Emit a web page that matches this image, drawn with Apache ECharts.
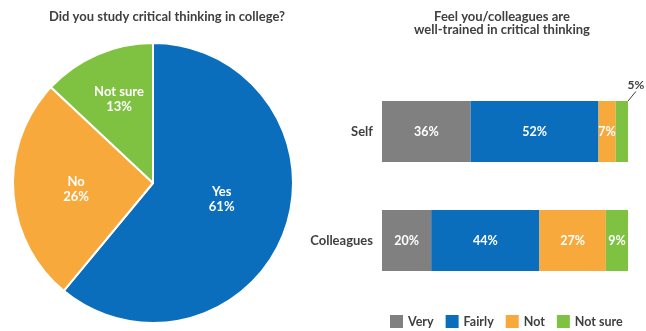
<!DOCTYPE html>
<html><head><meta charset="utf-8">
<script src="https://cdn.jsdelivr.net/npm/echarts@6/dist/echarts.min.js"></script>
<style>html,body{margin:0;padding:0;background:#fff}#c{width:646px;height:331px}</style>
</head><body><div id="c"></div>
<script>
const pieNames = ['Yes', 'No', 'Not sure'];
const pieValues = [61, 26, 13];
const barCategories = ['Self', 'Colleagues'];
const barSeriesNames = ['Very', 'Fairly', 'Not', 'Not sure'];
const veryValues = [36, 20];
const fairlyValues = [52, 44];
const notValues = [7, 27];
const notSureValues = [5, 9];

const colors = ['#808080', '#0a6ebd', '#f8a93b', '#7fc241'];
const pieColors = ['#0a6ebd', '#f8a93b', '#7fc241'];
const font = 'Lato';
const dark = '#3f3f3f';

const chart = echarts.init(document.getElementById('c'));
const barData = [veryValues, fairlyValues, notValues, notSureValues];

const barSeries = barSeriesNames.map((n, i) => {
  const s = {
    name: n, type: 'bar', stack: 'a', barWidth: 61,
    itemStyle: { color: colors[i] },
    label: { show: true, position: 'inside', color: '#fff', fontFamily: font, fontWeight: 700, fontSize: 12.5,
             formatter: p => p.value + '%' },
    data: barData[i].slice()
  };
  if (i === 3) {
    s.labelLine = { show: true, length2: 0, lineStyle: { color: '#3f3f3f', width: 1 } };
    s.labelLayout = p => p.dataIndex === 0 ? { dx: 14, dy: -46 } : {};
    s.data[0] = { value: barData[i][0], label: { color: dark, fontSize: 12 } };
  }
  return s;
});

chart.setOption({
  animation: false,
  textStyle: { fontFamily: font },
  title: [
    { text: 'Did you study critical thinking in college?', left: 162, top: 5, textAlign: 'center',
      textStyle: { fontFamily: font, fontWeight: 700, fontSize: 13, color: dark } },
    { text: 'Feel you/colleagues are\nwell-trained in critical thinking', left: 497, top: 5, textAlign: 'center',
      textStyle: { fontFamily: font, fontWeight: 700, fontSize: 13, color: dark, lineHeight: 13 } }
  ],
  legend: {
    data: barSeriesNames, left: 385, top: 310, itemWidth: 13, itemHeight: 13, itemGap: 12,
    icon: 'rect',
    textStyle: { fontFamily: font, fontWeight: 700, fontSize: 12.5, color: dark }
  },
  grid: { left: 382, right: 18, top: 77, height: 218 },
  xAxis: { type: 'value', min: 0, max: 100, show: false },
  yAxis: { type: 'category', data: barCategories, inverse: true,
    axisLine: { show: false }, axisTick: { show: false },
    axisLabel: { fontFamily: font, fontWeight: 700, fontSize: 13, color: dark, margin: 9 } },
  series: [
    { type: 'pie', center: [153, 183], radius: 140, startAngle: 90, clockwise: true,
      itemStyle: { borderColor: '#fff', borderWidth: 2 },
      label: { show: true, position: 'inner', color: '#fff', fontFamily: font, fontWeight: 700, fontSize: 13, lineHeight: 15,
               formatter: p => p.name + '\n' + p.value + '%' },
      labelLayout: p => p.dataIndex === 2 ? { dx: -5, dy: -17 } : (p.dataIndex === 0 ? { dy: -8 } : { dx: -4, dy: 2 }),
      labelLine: { show: false },
      data: pieNames.map((n, i) => ({ name: n, value: pieValues[i], itemStyle: { color: pieColors[i] } }))
    },
    ...barSeries
  ]
});
</script></body></html>
